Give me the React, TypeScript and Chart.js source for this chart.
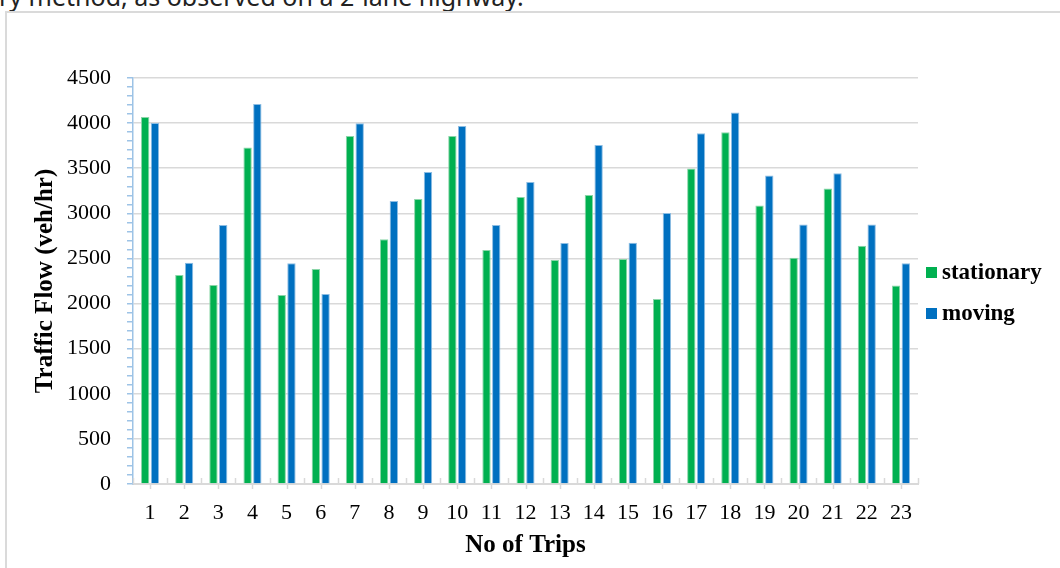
import React, { useEffect, useRef } from "react";
import { Chart, registerables } from "chart.js";

Chart.register(...registerables);

const trips = ["1", "2", "3", "4", "5", "6", "7", "8", "9", "10", "11", "12", "13", "14", "15", "16", "17", "18", "19", "20", "21", "22", "23"];
const stationary = [4069, 2317, 2206, 3729, 2095, 2384, 3858, 2713, 3160, 3858, 2594, 3182, 2483, 3204, 2494, 2051, 3496, 3899, 3086, 2509, 3274, 2642, 2199];
const moving = [4000, 2453, 2871, 4213, 2447, 2106, 3999, 3137, 3459, 3969, 2871, 3348, 2672, 3758, 2675, 3004, 3888, 4117, 3418, 2876, 3445, 2876, 2447];
const seriesLabels = ["stationary", "moving"];
const seriesColors = ["#00B050", "#0070C0"];
const seriesEdges = ["#8ad6a8", "#8dbde3"];
const yMin = 0;
const yMax = 4500;
const yMajor = 500;
const yMinor = 100;
const xTitle = "No of Trips";
const yTitle = "Traffic Flow (veh/hr)";
const captionText = "ry method, as observed on a 2-lane highway.";

const SERIF = "'Liberation Serif', 'Times New Roman', serif";

const xTickPlugin = {
  id: "xTicks",
  afterDraw(chart: any) {
    const xs = chart.scales.x;
    const ctx = chart.ctx;
    const y0 = chart.chartArea.bottom;
    ctx.save();
    ctx.strokeStyle = "#d9d9d9";
    ctx.lineWidth = 1.5;
    ctx.beginPath();
    for (let i = 0; i <= trips.length; i++) {
      const x = Math.round(xs.getPixelForValue(i - 0.5)) + 0.5;
      ctx.moveTo(x, y0);
      ctx.lineTo(x, y0 - 6);
    }
    for (let i = 0; i < trips.length; i++) {
      const x = Math.round(xs.getPixelForValue(i)) + 0.5;
      ctx.moveTo(x, y0);
      ctx.lineTo(x, y0 + 5);
    }
    ctx.stroke();
    ctx.restore();
  },
};

export default function App() {
  const ref = useRef<HTMLCanvasElement | null>(null);

  useEffect(() => {
    if (!ref.current) return;
    const chart = new Chart(ref.current, {
      type: "bar",
      data: {
        labels: trips,
        datasets: [
          {
            label: seriesLabels[0],
            data: stationary,
            backgroundColor: seriesColors[0],
            borderColor: seriesEdges[0],
            borderWidth: 1,
            barPercentage: 0.86,
            categoryPercentage: 0.57,
          },
          {
            label: seriesLabels[1],
            data: moving,
            backgroundColor: seriesColors[1],
            borderColor: seriesEdges[1],
            borderWidth: 1,
            barPercentage: 0.86,
            categoryPercentage: 0.57,
          },
        ],
      },
      options: {
        animation: false,
        responsive: false,
        maintainAspectRatio: false,
        devicePixelRatio: 1,
        layout: { padding: { left: 0, top: 78, right: 142, bottom: 0 } },
        plugins: {
          legend: { display: false },
          tooltip: { enabled: false },
        },
        scales: {
          x: {
            grid: { display: false, drawTicks: true, tickLength: 6 },
            border: { display: true, color: "#d9d9d9", width: 2 },
            ticks: {
              font: { family: SERIF, size: 22 },
              color: "#000",
              padding: 10,
              maxRotation: 0,
              autoSkip: false,
            },
            title: {
              display: true,
              text: xTitle,
              font: { family: SERIF, size: 25, weight: "bold" },
              color: "#000",
              padding: { top: 0, bottom: 7 },
            },
            afterFit: (s: any) => {
              s.height = 84;
            },
          },
          y: {
            min: yMin,
            max: yMax,
            ticks: {
              stepSize: yMinor,
              autoSkip: false,
              maxTicksLimit: 1000,
              callback: (v: any) => (Number(v) % yMajor === 0 ? String(v) : ""),
              font: { family: SERIF, size: 22 },
              color: "#000",
              padding: 16,
            },
            grid: {
              color: (c: any) => (c.tick && c.tick.value % yMajor === 0 ? "#d9d9d9" : "rgba(0,0,0,0)"),
              tickColor: "#9dc3e6",
              tickLength: 6,
              lineWidth: 1.5,
            },
            border: { display: true, color: "#9dc3e6", width: 1.5 },
            title: {
              display: true,
              text: yTitle,
              font: { family: SERIF, size: 25, weight: "bold" },
              color: "#000",
              padding: { top: 31, bottom: 0 },
            },
            afterFit: (s: any) => {
              s.width = 133;
            },
          },
        },
      },
      plugins: [xTickPlugin],
    });
    return () => chart.destroy();
  }, []);

  return (
    <div style={{ position: "fixed", left: 0, top: 0, width: 1060, height: 568, background: "#fff", overflow: "hidden" }}>
      <div
        style={{
          position: "absolute",
          left: -1,
          top: -16,
          fontFamily: "'Noto Sans', sans-serif",
          fontSize: 25,
          lineHeight: "25px",
          color: "#222",
          whiteSpace: "nowrap",
        }}
      >
        {captionText}
      </div>
      <div
        style={{
          position: "absolute",
          left: 5,
          top: 11,
          width: 1200,
          height: 700,
          border: "2px solid #dadada",
          boxSizing: "border-box",
        }}
      />
      <canvas ref={ref} width={1060} height={568} style={{ position: "absolute", left: 0, top: 0, width: 1060, height: 568 }} />
      {seriesLabels.map((lab, i) => (
        <div key={lab}>
          <div
            style={{
              position: "absolute",
              left: 926,
              top: 267 + i * 41,
              width: 11,
              height: 11,
              background: seriesColors[i],
            }}
          />
          <div
            style={{
              position: "absolute",
              left: 942,
              top: 260 + i * 41,
              fontFamily: SERIF,
              fontWeight: "bold",
              fontSize: 23,
              lineHeight: "23px",
              color: "#000",
              whiteSpace: "nowrap",
            }}
          >
            {lab}
          </div>
        </div>
      ))}
    </div>
  );
}
